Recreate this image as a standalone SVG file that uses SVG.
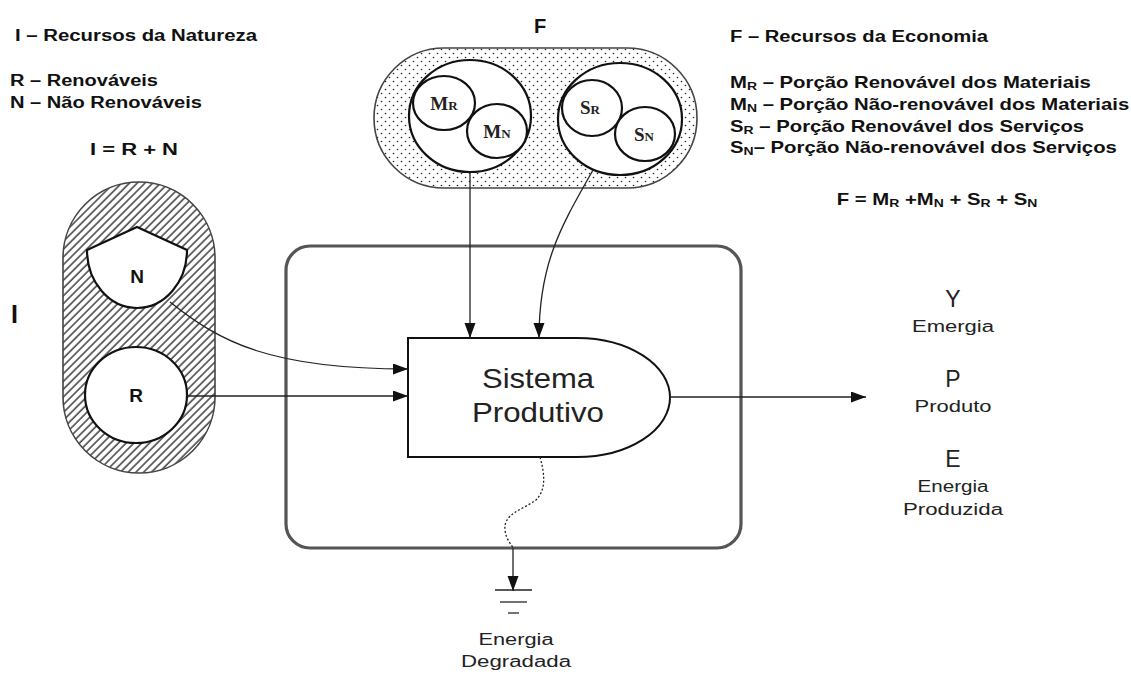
<svg xmlns="http://www.w3.org/2000/svg" width="1131" height="675" viewBox="0 0 1131 675">
<style>
.lbl{font-family:"Liberation Sans",Arial,sans-serif;font-weight:bold;font-size:16px;fill:#111}
.nl{font-family:"Liberation Sans",Arial,sans-serif;fill:#222}
.ser{font-family:"Liberation Serif","Times New Roman",serif;font-weight:bold;font-size:19px;fill:#222}
.ln{fill:none;stroke:#222;stroke-width:1.3}
.blk{stroke:#111;stroke-width:2.2}
</style>
<defs>
<pattern id="hatch" patternUnits="userSpaceOnUse" width="5.5" height="5.5" patternTransform="rotate(45)">
<rect width="5.5" height="5.5" fill="#fff"/>
<line x1="1" y1="0" x2="1" y2="5.5" stroke="#222" stroke-width="1.3"/>
</pattern>
<pattern id="dots" patternUnits="userSpaceOnUse" width="8" height="8">
<rect width="8" height="8" fill="#fff"/>
<circle cx="1.5" cy="1.5" r="0.8" fill="#222"/>
<circle cx="5.5" cy="5.5" r="0.8" fill="#222"/>
</pattern>
<marker id="ah" markerUnits="userSpaceOnUse" markerWidth="16" markerHeight="12" refX="15" refY="5.5" orient="auto">
<path d="M0,0 L15,5.5 L0,11 z" fill="#111"/>
</marker>
</defs>
<rect width="1131" height="675" fill="#fff"/>

<g id="legend-left">
<text class="lbl" x="15" y="41" textLength="242" lengthAdjust="spacingAndGlyphs">I – Recursos da Natureza</text>
<text class="lbl" x="10" y="86" textLength="148" lengthAdjust="spacingAndGlyphs">R – Renováveis</text>
<text class="lbl" x="10" y="108" textLength="192" lengthAdjust="spacingAndGlyphs">N – Não Renováveis</text>
<text class="lbl" x="90" y="155" textLength="88" lengthAdjust="spacingAndGlyphs">I = R + N</text>
<text class="lbl" x="11" y="323" style="font-size:25px">I</text>
</g>

<g id="legend-right">
<text class="lbl" x="730" y="42" textLength="258" lengthAdjust="spacingAndGlyphs">F – Recursos da Economia</text>
<text class="lbl" transform="translate(730,88) scale(1.27,1)">M<tspan font-size="11" dy="2">R</tspan><tspan dy="-2"> – Porção Renovável dos Materiais</tspan></text>
<text class="lbl" transform="translate(730,110) scale(1.27,1)">M<tspan font-size="11" dy="2">N</tspan><tspan dy="-2"> – Porção Não-renovável dos Materiais</tspan></text>
<text class="lbl" transform="translate(730,132) scale(1.27,1)">S<tspan font-size="11" dy="2">R</tspan><tspan dy="-2"> – Porção Renovável dos Serviços</tspan></text>
<text class="lbl" transform="translate(730,153) scale(1.27,1)">S<tspan font-size="11" dy="2">N</tspan><tspan dy="-2">– Porção Não-renovável dos Serviços</tspan></text>
<text class="lbl" text-anchor="middle" transform="translate(937,205) scale(1.27,1)">F = M<tspan font-size="11" dy="2">R</tspan><tspan dy="-2"> +M</tspan><tspan font-size="11" dy="2">N</tspan><tspan dy="-2"> + S</tspan><tspan font-size="11" dy="2">R</tspan><tspan dy="-2"> + S</tspan><tspan font-size="11" dy="2">N</tspan></text>
</g>

<g id="node-I">
<rect x="63" y="182" width="152" height="291" rx="76" ry="76" fill="url(#hatch)" stroke="#444" stroke-width="1.6"/>
<path d="M87,250 L137,227 L187,250 A50,58 0 0 1 87,250 Z" fill="#fff" class="blk"/>
<text class="lbl" x="137" y="283" text-anchor="middle" style="font-size:19px">N</text>
<ellipse cx="136" cy="395" rx="51" ry="48" fill="#fff" class="blk"/>
<text class="lbl" x="136" y="402" text-anchor="middle" style="font-size:19px">R</text>
</g>

<g id="node-F">
<text class="lbl" x="540" y="33" text-anchor="middle" style="font-size:20px">F</text>
<rect x="374" y="48" width="323" height="140" rx="70" ry="70" fill="url(#dots)" stroke="#444" stroke-width="1.6"/>
<ellipse cx="470" cy="116" rx="61" ry="56" fill="#fff" class="blk"/>
<ellipse cx="444" cy="103" rx="31" ry="27" fill="#fff" class="blk"/>
<ellipse cx="497" cy="131" rx="30" ry="27" fill="#fff" class="blk"/>
<text class="ser" x="444" y="110" text-anchor="middle">M<tspan font-size="13">R</tspan></text>
<text class="ser" x="497" y="138" text-anchor="middle">M<tspan font-size="13">N</tspan></text>
<ellipse cx="620" cy="119" rx="62" ry="56" fill="#fff" class="blk"/>
<ellipse cx="592" cy="108" rx="30" ry="28" fill="#fff" class="blk"/>
<ellipse cx="645" cy="134" rx="30" ry="27" fill="#fff" class="blk"/>
<text class="ser" x="590" y="114" text-anchor="middle">S<tspan font-size="13">R</tspan></text>
<text class="ser" x="644" y="141" text-anchor="middle">S<tspan font-size="13">N</tspan></text>
</g>

<g id="node-boundary">
<rect x="286" y="246" width="455" height="302" rx="24" ry="24" fill="none" stroke="#555" stroke-width="3.2"/>
</g>

<g id="node-sistema">
<path d="M408,338 H577 A93,59.5 0 0 1 577,457 H408 Z" fill="#fff" stroke="#111" stroke-width="2"/>
<text class="nl" x="538" y="388" text-anchor="middle" font-size="28" textLength="112" lengthAdjust="spacingAndGlyphs">Sistema</text>
<text class="nl" x="538" y="422" text-anchor="middle" font-size="28" textLength="132" lengthAdjust="spacingAndGlyphs">Produtivo</text>
</g>

<g id="connectors">
<path class="ln" d="M170,302 C220,342 270,369 408,369" marker-end="url(#ah)"/>
<path class="ln" d="M187,396 L408,396" marker-end="url(#ah)"/>
<path class="ln" d="M470,172 L470,338" marker-end="url(#ah)"/>
<path class="ln" d="M593,170 C562,225 539,262 539,338" marker-end="url(#ah)"/>
<path class="ln" d="M670,397 L866,397" marker-end="url(#ah)"/>
<path class="ln" d="M540,457 C545,475 546,490 536,500 C522,510 503,514 505,530 C506,540 512,545 513,548" stroke-dasharray="2,2"/>
<path class="ln" d="M513,548 L513,591" marker-end="url(#ah)"/>
</g>

<g id="node-ground">
<line x1="495" y1="590" x2="532" y2="590" stroke="#222" stroke-width="1.5"/>
<line x1="500" y1="602" x2="527" y2="602" stroke="#444" stroke-width="1.5"/>
<line x1="508" y1="613" x2="519" y2="613" stroke="#444" stroke-width="1.5"/>
<text class="nl" x="516" y="645" text-anchor="middle" font-size="16" textLength="75" lengthAdjust="spacingAndGlyphs">Energia</text>
<text class="nl" x="516" y="667" text-anchor="middle" font-size="16" textLength="110" lengthAdjust="spacingAndGlyphs">Degradada</text>
</g>

<g id="node-outputs">
<text class="nl" x="953" y="307" text-anchor="middle" font-size="23">Y</text>
<text class="nl" x="953" y="332" text-anchor="middle" font-size="16" textLength="82" lengthAdjust="spacingAndGlyphs">Emergia</text>
<text class="nl" x="953" y="387" text-anchor="middle" font-size="23">P</text>
<text class="nl" x="953" y="412" text-anchor="middle" font-size="16" textLength="77" lengthAdjust="spacingAndGlyphs">Produto</text>
<text class="nl" x="953" y="467" text-anchor="middle" font-size="23">E</text>
<text class="nl" x="953" y="492" text-anchor="middle" font-size="16" textLength="71" lengthAdjust="spacingAndGlyphs">Energia</text>
<text class="nl" x="953" y="515" text-anchor="middle" font-size="16" textLength="100" lengthAdjust="spacingAndGlyphs">Produzida</text>
</g>
</svg>
